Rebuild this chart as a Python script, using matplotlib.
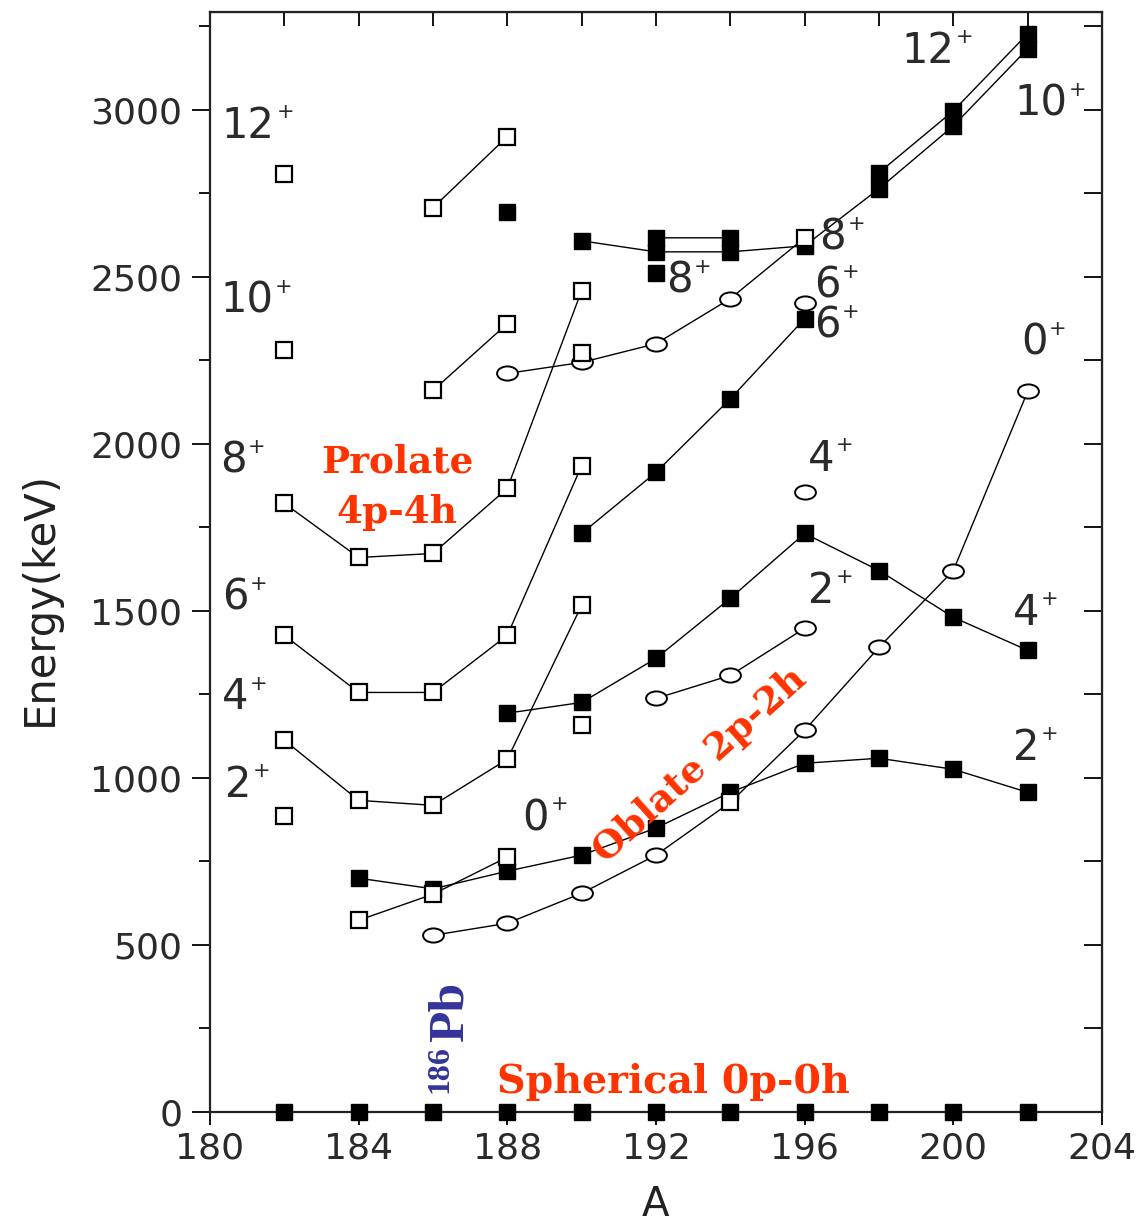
import numpy as np
import matplotlib
matplotlib.use('Agg')
import matplotlib.pyplot as plt
from matplotlib.path import Path
from matplotlib.transforms import Affine2D
from matplotlib.ticker import MultipleLocator

# mass number A, level energy in keV
sph_A = [182, 184, 186, 188, 190, 192, 194, 196, 198, 200, 202]
sph_E = [0, 0, 0, 0, 0, 0, 0, 0, 0, 0, 0]

# prolate (open squares)
pro0_A = [184, 186, 188]
pro0_E = [574, 652, 763]
pro_A = [182, 184, 186, 188, 190]
pro2_E = [1113, 933, 918, 1056, 1517]
pro4_E = [1427, 1256, 1256, 1427, 1935]
pro6_E = [1822, 1660, 1672, 1867, 2459]
pro8_A = [186, 188]
pro8_E = [2160, 2360]
pro10_A = [186, 188]
pro10_E = [2707, 2920]
pro_iso_A = [182, 182, 182, 190, 190]
pro_iso_E = [885, 2282, 2809, 1158, 2273]

# oblate (filled squares)
obl2_A = [184, 186, 188, 190, 192, 194, 196, 198, 200, 202]
obl2_E = [700, 668, 721, 769, 850, 957, 1044, 1059, 1026, 957]
obl4_A = [188, 190, 192, 194, 196, 198, 200, 202]
obl4_E = [1194, 1226, 1358, 1538, 1732, 1621, 1481, 1382]
obl6_A = [190, 192, 194, 196]
obl6_E = [1732, 1915, 2135, 2375]
obl8_A = [190, 192, 194, 196, 198, 200, 202]
obl8_E = [2608, 2575, 2575, 2593, 2764, 2952, 3183]
obl10_A = [192, 194, 196, 198, 200, 202]
obl10_E = [2617, 2617, np.nan, 2812, 2997, 3228]
obl_iso_A = [188, 192]
obl_iso_E = [2695, 2513]

# open circles
c0_A = [186, 188, 190, 192, 194, 196, 198, 200, 202]
c0_E = [529, 565, 655, 769, 927, 1143, 1391, 1621, 2157]
c2_A = [192, 194, 196]
c2_E = [1238, 1307, 1448]
c4_A = [188, 190, 192, 194, 196]
c4_E = [2211, 2244, 2300, 2435, 2617]
c_iso_A = [196, 196]
c_iso_E = [1855, 2423]

# spin labels: text, A, E
spins = [("12", 180.32, 2952), ("10", 180.27, 2429), ("8", 180.27, 1950),
         ("6", 180.32, 1540), ("4", 180.32, 1241), ("2", 180.40, 978),
         ("12", 198.60, 3177), ("10", 201.64, 3018), ("8", 196.40, 2617),
         ("8", 192.28, 2489), ("6", 196.26, 2474), ("6", 196.26, 2354),
         ("0", 201.83, 2303), ("4", 196.08, 1956), ("2", 196.08, 1561),
         ("4", 201.61, 1493), ("2", 201.61, 1089), ("0", 188.41, 879)]

ell = Path.unit_circle().transformed(Affine2D().scale(1.0, 0.68))

fig = plt.figure(figsize=(11.39, 12.30), dpi=100)
ax = fig.add_axes([210/1139, 118/1230, 892/1139, 1100/1230])

lk = dict(color='black', lw=1.0, zorder=2)
sq_open = dict(marker='s', ms=12, mfc='white', mec='black', mew=1.6, ls='none', zorder=3)
sq_fill = dict(marker='s', ms=12, mfc='black', mec='black', mew=1.0, ls='none', zorder=3)
circ = dict(marker=ell, ms=15, mfc='white', mec='black', mew=1.4, ls='none', zorder=3)

# lines
for xs, ys in [(pro0_A, pro0_E), (pro_A, pro2_E), (pro_A, pro4_E), (pro_A, pro6_E),
               (pro8_A, pro8_E), (pro10_A, pro10_E), (obl2_A, obl2_E),
               (obl4_A, obl4_E), (obl6_A, obl6_E), (obl8_A, obl8_E),
               (obl10_A, obl10_E), (c0_A, c0_E), (c2_A, c2_E), (c4_A, c4_E)]:
    ax.plot(xs, ys, **lk)

# filled squares
for xs, ys in [(obl2_A, obl2_E), (obl4_A, obl4_E), (obl6_A, obl6_E),
               (obl8_A, obl8_E), (obl10_A, obl10_E), (obl_iso_A, obl_iso_E)]:
    ax.plot(xs, ys, **sq_fill)
ax.plot(sph_A, sph_E, clip_on=False, **sq_fill)

# circles (194 of the 0+ line and 196 of the upper line are open squares)
ax.plot([a for a in c0_A if a != 194], [e for a, e in zip(c0_A, c0_E) if a != 194], **circ)
ax.plot(c2_A, c2_E, **circ)
ax.plot(c4_A[:-1], c4_E[:-1], **circ)
ax.plot(c_iso_A, c_iso_E, **circ)

# open squares
for xs, ys in [(pro0_A, pro0_E), (pro_A, pro2_E), (pro_A, pro4_E), (pro_A, pro6_E),
               (pro8_A, pro8_E), (pro10_A, pro10_E), (pro_iso_A, pro_iso_E),
               ([194], [c0_E[c0_A.index(194)]]), ([196], [c4_E[-1]])]:
    ax.plot(xs, ys, **sq_open)

ax.set_xlim(180, 204)
ax.set_ylim(0, 3293)
ax.xaxis.set_major_locator(MultipleLocator(4))
ax.yaxis.set_major_locator(MultipleLocator(500))
ax.yaxis.set_minor_locator(MultipleLocator(250))
ax.tick_params(axis='both', which='major', labelsize=26, labelcolor='#2a2a2a', width=1.3)
ax.tick_params(axis='y', which='major', direction='out', length=13, pad=7)
ax.tick_params(axis='y', which='minor', direction='out', length=8, width=1.3)
ax.tick_params(axis='x', which='major', direction='out', length=9, pad=5)
for s in ax.spines.values():
    s.set_linewidth(1.6)
    s.set_color('#222222')

# inward ticks on top and right
sec_top = ax.secondary_xaxis('top')
sec_top.xaxis.set_major_locator(MultipleLocator(2))
sec_top.tick_params(direction='in', length=10, width=1.3, labeltop=False)
sec_right = ax.secondary_yaxis('right')
sec_right.yaxis.set_major_locator(MultipleLocator(250))
sec_right.tick_params(direction='in', length=13, width=1.3, labelright=False)

for txt, a, e in spins:
    ax.text(a, e, txt, fontsize=30, color='#2a2a2a', ha='left', va='center', zorder=4)
    ax.annotate('+', xy=(a, e), xytext=(len(txt) * 19.5 + 0.5, 10), textcoords='offset points',
                fontsize=15, color='#2a2a2a', ha='left', va='center', zorder=4)

red = '#ff3300'
rfont = dict(fontweight='bold', family='DejaVu Serif', color=red, zorder=5)
ax.text(185.03, 1947, 'Prolate', ha='center', va='center', fontsize=27, **rfont)
ax.text(185.03, 1795, '4p-4h', ha='center', va='center', fontsize=27, **rfont)
ax.text(193.17, 1038, 'Oblate 2p-2h', ha='center', va='center', rotation=42,
        rotation_mode='anchor', fontsize=27, **rfont)
ax.text(187.72, 90, 'Spherical 0p-0h', ha='left', va='center', fontsize=28.5, **rfont)

blue = '#333399'
ax.text(186.8, 209, 'Pb', fontsize=37, fontweight='bold', family='Liberation Serif',
        color=blue, rotation=90, rotation_mode='anchor', ha='left', va='baseline', zorder=5)
ax.text(186.4, 57, '186', fontsize=23, fontweight='bold', family='Liberation Serif',
        color=blue, rotation=90, rotation_mode='anchor', ha='left', va='baseline', zorder=5)

fig.text(40/1139, 1 - 598/1230, 'Energy(keV)', rotation=90, fontsize=30,
         ha='center', va='center', color='#222222')
fig.text(655/1139, 1 - 1205/1230, 'A', fontsize=29, ha='center', va='center', color='#222222')

fig.savefig('out.png', dpi=100)
